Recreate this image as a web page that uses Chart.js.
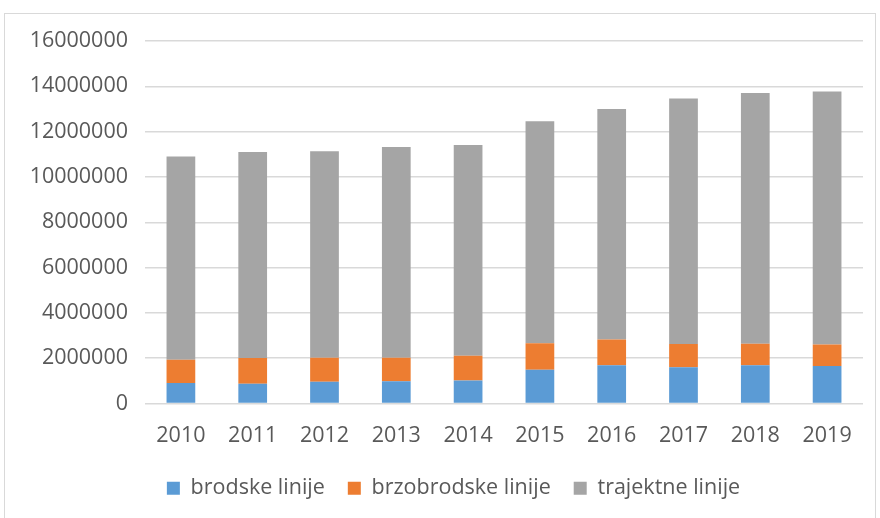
<!DOCTYPE html>
<html>
<head>
<meta charset="utf-8">
<script src="https://cdn.jsdelivr.net/npm/chart.js@4/dist/chart.umd.min.js"></script>
<style>
  html, body { margin: 0; padding: 0; background: #fff; }
  #wrap { position: relative; width: 880px; height: 518px; overflow: hidden; }
  #frame { position: absolute; left: 4px; top: 13px; width: 872px; height: 600px; border: 1px solid #d9d9d9; box-sizing: border-box; }
  #myChart { position: absolute; left: 0; top: 0; }
</style>
</head>
<body>
<div id="wrap">
  <div id="frame"></div>
  <canvas id="myChart" width="880" height="518"></canvas>
</div>
<script>
var godine = ['2010', '2011', '2012', '2013', '2014', '2015', '2016', '2017', '2018', '2019'];

var brodske = [905000, 874000, 960000, 980000, 1020000, 1490000, 1690000, 1600000, 1690000, 1660000];
var brzobrodske = [1029000, 1136000, 1060000, 1040000, 1090000, 1170000, 1130000, 1030000, 950000, 940000];
var trajektne = [8966000, 9090000, 9110000, 9300000, 9300000, 9800000, 10180000, 10830000, 11070000, 11170000];

var yMax = 16000000;
var yStep = 2000000;

var tekst = '#595959';
var mreza = '#d9d9d9';
var font = { family: 'Open Sans', size: 21.5 };
var legPadding = 23;
// visina legende kako je racuna Chart.js: visina stavke + padding + 10
var legVisina = font.size + legPadding + 10;

// legenda se crta malo desno i vise od mjesta koje joj da raspored
var pomakLegende = {
    id: 'pomakLegende',
    afterLayout: function (chart) {
        var lg = chart.legend;
        lg.left += 22; lg.right += 22;
        lg.top -= 9; lg.bottom -= 9;
    }
};

const data = {
    labels: godine,
    datasets: [{
        label: 'brodske linije',
        backgroundColor: '#5b9bd5',
        data: brodske
    }, {
        label: 'brzobrodske linije',
        backgroundColor: '#ed7d31',
        data: brzobrodske
    }, {
        label: 'trajektne linije',
        backgroundColor: '#a5a5a5',
        data: trajektne
    }]
};

const config = {
    type: 'bar',
    data: data,
    plugins: [pomakLegende],
    options: {
        responsive: false,
        animation: false,
        layout: { padding: { left: 0, top: 41, right: 17, bottom: 0 } },
        datasets: {
            bar: { barPercentage: 0.4, categoryPercentage: 1, borderWidth: 0 }
        },
        plugins: {
            tooltip: { enabled: false },
            legend: {
                position: 'bottom',
                labels: {
                    color: tekst,
                    font: font,
                    boxWidth: 13,
                    boxHeight: 13,
                    padding: legPadding
                }
            }
        },
        scales: {
            x: {
                stacked: true,
                grid: { display: false },
                border: { display: false },
                ticks: { color: tekst, font: font, padding: 11, maxRotation: 0 },
                afterFit: function (scale) { scale.height = 518 - 403.5 - legVisina; }
            },
            y: {
                stacked: true,
                min: 0,
                max: yMax,
                grid: { color: mreza, lineWidth: 1.4, drawTicks: false },
                border: { display: false },
                ticks: {
                    stepSize: yStep,
                    color: tekst,
                    font: font,
                    padding: 17,
                    callback: function (v) { return String(v); }
                },
                afterFit: function (scale) { scale.width = 145; }
            }
        }
    }
};

const myChart = new Chart(document.getElementById('myChart'), config);
</script>
</body>
</html>
